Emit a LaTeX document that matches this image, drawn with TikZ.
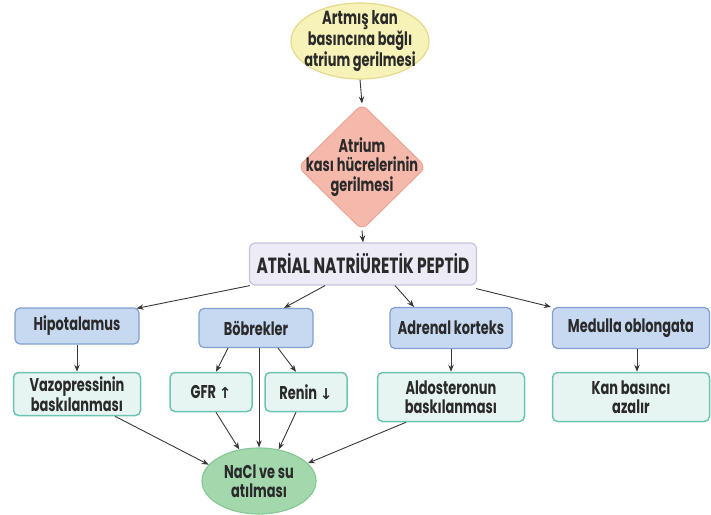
\documentclass[tikz,border=0pt]{standalone}
\usepackage{fontspec}
\setmainfont{Poppins}[FakeStretch=0.7]
\newfontfamily\arrowfont{DejaVu Sans}
\usetikzlibrary{shapes.geometric,arrows.meta,calc}
\definecolor{txt}{HTML}{2A2A2A}
\definecolor{arrC}{HTML}{383838}
\definecolor{blueF}{HTML}{C7D9F1}
\definecolor{blueB}{HTML}{7F9ED2}
\definecolor{greenF}{HTML}{E6F5F1}
\definecolor{greenB}{HTML}{6CC5B2}
\definecolor{naclF}{HTML}{A3D8AD}
\definecolor{naclB}{HTML}{86C995}
\definecolor{lavF}{HTML}{ECEBF6}
\definecolor{lavB}{HTML}{C6C3DB}
\definecolor{yelF}{HTML}{F7F2B8}
\definecolor{yelB}{HTML}{E4DA8C}
\definecolor{pinkF}{HTML}{F5B9AB}
\definecolor{pinkB}{HTML}{E9A595}
\begin{document}
\begin{tikzpicture}[x=1pt,y=-1pt,
  every node/.style={text=txt, font=\bfseries\fontsize{18.5}{19.5}\selectfont, align=center},
  bluebox/.style={draw=blueB, fill=blueF, rounded corners=5pt, line width=1.2pt, inner sep=0pt},
  greenbox/.style={draw=greenB, fill=greenF, rounded corners=5pt, line width=1.5pt, inner sep=0pt},
  arr/.style={-{Stealth[length=7pt,width=5.5pt]}, draw=arrC, line width=0.9pt}]
\useasboundingbox (0,0) rectangle (711,514);
\node[ellipse, draw=yelB, fill=yelF, line width=1.2pt, minimum width=138pt, minimum height=76pt, inner sep=0pt] (top) at (360,41) {};
\node (topt) at (top.center) {\fontsize{19}{20}\selectfont Artmış kan\\basıncına bağlı\\atrium gerilmesi};
\node[diamond, draw=pinkB, fill=pinkF, rounded corners=7pt, line width=1pt, minimum width=128pt, minimum height=126pt, inner sep=0pt] (dia) at (362,167) {};
\node (diat) at (dia.center) {Atrium\\kası hücrelerinin\\gerilmesi};
\node[draw=lavB, fill=lavF, rounded corners=6pt, line width=1.2pt, minimum width=227pt, minimum height=42pt, inner sep=0pt] (anp) at (363,264) {\fontsize{22}{24}\selectfont ATRİAL NATRİÜRETİK PEPTİD};

\node[bluebox, minimum width=124pt, minimum height=36pt] (hip) at (77,326) {Hipotalamus};
\node[bluebox, minimum width=114pt, minimum height=39pt] (bob) at (256,328) {Böbrekler};
\node[bluebox, minimum width=122pt, minimum height=41pt] (adr) at (451,328) {Adrenal korteks};
\node[bluebox, minimum width=157pt, minimum height=41pt] (med) at (631,328) {Medulla oblongata};

\node[greenbox, minimum width=127pt, minimum height=43pt] (vaz) at (77,394) {Vazopressinin\\baskılanması};
\node[greenbox, minimum width=82pt, minimum height=39pt] (gfr) at (211,392) {GFR {\arrowfont\fontsize{15}{16}\selectfont ↑}};
\node[greenbox, minimum width=82pt, minimum height=39pt] (ren) at (306,392) {Renin {\arrowfont\fontsize{15}{16}\selectfont ↓}};
\node[greenbox, minimum width=147pt, minimum height=49pt] (ald) at (451,397) {Aldosteronun\\baskılanması};
\node[greenbox, minimum width=157pt, minimum height=49pt] (kan) at (631,397) {Kan basıncı\\azalır};

\node[ellipse, draw=naclB, fill=naclF, line width=1.2pt, minimum width=114pt, minimum height=66pt, inner sep=0pt] (nacl) at (259,481) {};
\node (naclt) at (nacl.center) {NaCl ve su\\atılması};

\draw[arr] (top.south) -- (dia.north);
\draw[arr] (dia.south) -- (anp.north);
\draw[arr] ([xshift=1pt]anp.south west) -- ([xshift=-3pt,yshift=-1pt]hip.north east);
\draw[arr] ([xshift=-38pt]anp.south) -- ([xshift=28pt]bob.north);
\draw[arr] ([xshift=32pt]anp.south) -- ([xshift=-37pt]adr.north);
\draw[arr] ([xshift=-1pt,yshift=-3pt]anp.south east) -- ([xshift=-1pt]med.north west);

\draw[arr] (hip.south) -- (vaz.north);
\draw[arr] (adr.south) -- (ald.north);
\draw[arr] ([xshift=6pt]med.south) -- ([xshift=6pt]kan.north);
\draw[arr] ([xshift=-28pt]bob.south) -- ([xshift=5pt]gfr.north);
\draw[arr] ([xshift=22pt]bob.south) -- ([xshift=-10pt]ren.north);
\draw[arr] ([xshift=3pt]bob.south) -- (nacl.north);

\draw[arr] ([xshift=38pt]vaz.south) -- (nacl.162);
\draw[arr] ([xshift=5pt]gfr.south) -- (nacl.122);
\draw[arr] ([xshift=-10pt]ren.south) -- (nacl.58);
\draw[arr] ([xshift=-45pt]ald.south) -- (nacl.20);
\end{tikzpicture}
\end{document}
